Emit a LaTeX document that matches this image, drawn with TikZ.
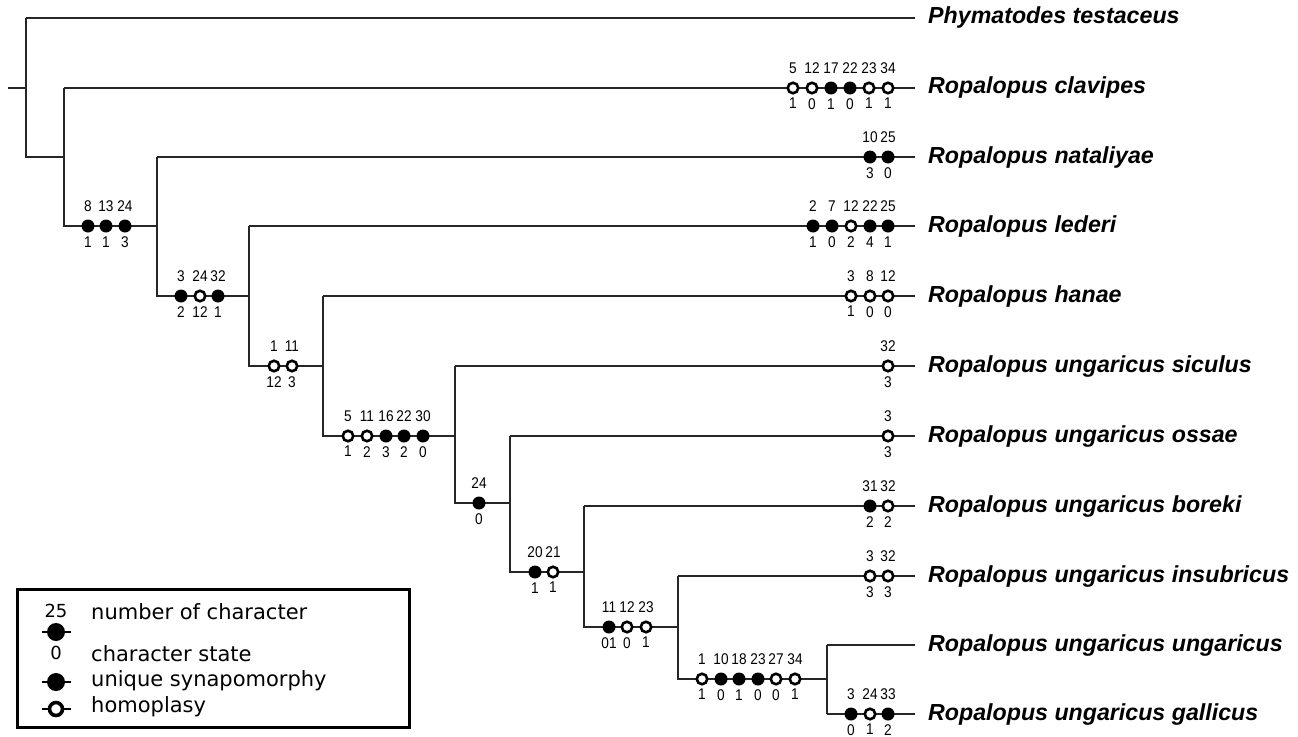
\documentclass[tikz,border=0pt]{standalone}
\usepackage{fontspec}
\setmainfont{Liberation Sans}
\newfontfamily\legendfont{DejaVu Sans}
\newfontfamily\numfont[FakeStretch=0.88]{Liberation Sans}

\tikzset{
  branch/.style={line width=1.3pt, draw=black!85},
  syn/.style={circle, fill=black, minimum size=13pt, inner sep=0pt},
  homo/.style={circle, draw=black, fill=white, line width=2.6pt, minimum size=10.5pt, inner sep=0pt},
  chr/.style={label={[font=\numfont\fontsize{15.5}{15.5}\selectfont, inner sep=0pt, label distance=7.5pt]above:#1}},
  sta/.style={label={[font=\numfont\fontsize{15.5}{15.5}\selectfont, inner sep=0pt, label distance=3.5pt]below:#1}},
  taxon/.style={anchor=west, inner sep=0pt, font=\fontsize{23.2}{26}\selectfont\bfseries\itshape},
  legtext/.style={anchor=west, inner sep=0pt, font=\legendfont\fontsize{21}{24}\selectfont},
  legnum/.style={inner sep=0pt, font=\legendfont\fontsize{18}{20}\selectfont},
}

\begin{document}
\begin{tikzpicture}[x=1pt, y=-1pt]
    \useasboundingbox (0,0) rectangle (1298,736);

    % tips of the branches
    \coordinate (phy) at (915,18);
    \coordinate (cla) at (915,88);
    \coordinate (nat) at (915,157);
    \coordinate (led) at (915,226);
    \coordinate (han) at (915,296);
    \coordinate (sic) at (915,366);
    \coordinate (oss) at (915,436);
    \coordinate (bor) at (915,506);
    \coordinate (ins) at (915,576);
    \coordinate (ung) at (915,645);
    \coordinate (gal) at (915,714);

    % inner nodes
    \coordinate (base) at (8,88);
    \coordinate (n0) at (26,88);
    \coordinate (n1) at (64,157);
    \coordinate (n2) at (157,226);
    \coordinate (n3) at (249,296);
    \coordinate (n4) at (323,366);
    \coordinate (n5) at (455,436);
    \coordinate (n6) at (510,503);
    \coordinate (n7) at (584,572);
    \coordinate (n8) at (678,627);
    \coordinate (n9) at (827,679);

    \draw [branch] (base) -- (n0);
    \draw [branch] (n0 |- phy) -- (n0 |- n1) -- (n1);
    \draw [branch] (n1 |- cla) -- (n1 |- n2) -- (n2);
    \draw [branch] (n2 |- nat) -- (n2 |- n3) -- (n3);
    \draw [branch] (n3 |- led) -- (n3 |- n4) -- (n4);
    \draw [branch] (n4 |- han) -- (n4 |- n5) -- (n5);
    \draw [branch] (n5 |- sic) -- (n5 |- n6) -- (n6);
    \draw [branch] (n6 |- oss) -- (n6 |- n7) -- (n7);
    \draw [branch] (n7 |- bor) -- (n7 |- n8) -- (n8);
    \draw [branch] (n8 |- ins) -- (n8 |- n9) -- (n9);
    \draw [branch] (n9 |- ung) -- (n9 |- gal);

    \draw [branch] (n0 |- phy) -- (phy);
    \draw [branch] (n1 |- cla) -- (cla);
    \draw [branch] (n2 |- nat) -- (nat);
    \draw [branch] (n3 |- led) -- (led);
    \draw [branch] (n4 |- han) -- (han);
    \draw [branch] (n5 |- sic) -- (sic);
    \draw [branch] (n6 |- oss) -- (oss);
    \draw [branch] (n7 |- bor) -- (bor);
    \draw [branch] (n8 |- ins) -- (ins);
    \draw [branch] (n9 |- ung) -- (ung);
    \draw [branch] (n9 |- gal) -- (gal);

    % taxa
    \node [taxon] (phyL) at (928,18) {Phymatodes testaceus};
    \node [taxon] (claL) at (928,88) {Ropalopus clavipes};
    \node [taxon] (natL) at (928,157) {Ropalopus nataliyae};
    \node [taxon] (ledL) at (928,226) {Ropalopus lederi};
    \node [taxon] (hanL) at (928,296) {Ropalopus hanae};
    \node [taxon] (sicL) at (928,366) {Ropalopus ungaricus siculus};
    \node [taxon] (ossL) at (928,436) {Ropalopus ungaricus ossae};
    \node [taxon] (borL) at (928,506) {Ropalopus ungaricus boreki};
    \node [taxon] (insL) at (928,576) {Ropalopus ungaricus insubricus};
    \node [taxon] (ungL) at (928,645) {Ropalopus ungaricus ungaricus};
    \node [taxon] (galL) at (928,714) {Ropalopus ungaricus gallicus};

    % characters on inner branches
    \node [syn, chr=8, sta=1] (m2a) at (88,226) {};
    \node [syn, chr=13, sta=1] (m2b) at (106,226) {};
    \node [syn, chr=24, sta=3] (m2c) at (125,226) {};

    \node [syn, chr=3, sta=2] (m3a) at (181,296) {};
    \node [homo, chr=24, sta=12] (m3b) at (200,296) {};
    \node [syn, chr=32, sta=1] (m3c) at (218,296) {};

    \node [homo, chr=1, sta=12] (m4a) at (274,366) {};
    \node [homo, chr=11, sta=3] (m4b) at (292,366) {};

    \node [homo, chr=5, sta=1] (m5a) at (348,436) {};
    \node [homo, chr=11, sta=2] (m5b) at (367,436) {};
    \node [syn, chr=16, sta=3] (m5c) at (386,436) {};
    \node [syn, chr=22, sta=2] (m5d) at (404,436) {};
    \node [syn, chr=30, sta=0] (m5e) at (423,436) {};

    \node [syn, chr=24, sta=0] (m6a) at (479,503) {};

    \node [syn, chr=20, sta=1] (m7a) at (535,572) {};
    \node [homo, chr=21, sta=1] (m7b) at (553,572) {};

    \node [syn, chr=11, sta=01] (m8a) at (609,627) {};
    \node [homo, chr=12, sta=0] (m8b) at (627,627) {};
    \node [homo, chr=23, sta=1] (m8c) at (646,627) {};

    \node [homo, chr=1, sta=1] (m9a) at (702,679) {};
    \node [syn, chr=10, sta=0] (m9b) at (721,679) {};
    \node [syn, chr=18, sta=1] (m9c) at (739,679) {};
    \node [syn, chr=23, sta=0] (m9d) at (758,679) {};
    \node [homo, chr=27, sta=0] (m9e) at (776,679) {};
    \node [homo, chr=34, sta=1] (m9f) at (795,679) {};

    % characters on terminal branches
    \node [homo, chr=5, sta=1] (claA) at (793,88) {};
    \node [homo, chr=12, sta=0] (claB) at (812,88) {};
    \node [syn, chr=17, sta=1] (claC) at (831,88) {};
    \node [syn, chr=22, sta=0] (claD) at (850,88) {};
    \node [homo, chr=23, sta=1] (claE) at (869,88) {};
    \node [homo, chr=34, sta=1] (claF) at (888,88) {};

    \node [syn, chr=10, sta=3] (natA) at (870,157) {};
    \node [syn, chr=25, sta=0] (natB) at (888,157) {};

    \node [syn, chr=2, sta=1] (ledA) at (813,226) {};
    \node [syn, chr=7, sta=0] (ledB) at (832,226) {};
    \node [homo, chr=12, sta=2] (ledC) at (851,226) {};
    \node [syn, chr=22, sta=4] (ledD) at (870,226) {};
    \node [syn, chr=25, sta=1] (ledE) at (888,226) {};

    \node [homo, chr=3, sta=1] (hanA) at (851,296) {};
    \node [homo, chr=8, sta=0] (hanB) at (870,296) {};
    \node [homo, chr=12, sta=0] (hanC) at (888,296) {};

    \node [homo, chr=32, sta=3] (sicA) at (888,366) {};

    \node [homo, chr=3, sta=3] (ossA) at (888,436) {};

    \node [syn, chr=31, sta=2] (borA) at (870,506) {};
    \node [homo, chr=32, sta=2] (borB) at (888,506) {};

    \node [homo, chr=3, sta=3] (insA) at (870,576) {};
    \node [homo, chr=32, sta=3] (insB) at (888,576) {};

    \node [syn, chr=3, sta=0] (galA) at (851,714) {};
    \node [homo, chr=24, sta=1] (galB) at (870,714) {};
    \node [syn, chr=33, sta=2] (galC) at (888,714) {};

    % legend
    \draw [line width=3pt] (17,589) rectangle (409,727);
    \coordinate (k1w) at (42,632);
    \coordinate (k1e) at (71,632);
    \coordinate (k2w) at (42,682);
    \coordinate (k2e) at (71,682);
    \coordinate (k3w) at (42,709);
    \coordinate (k3e) at (71,709);
    \draw [line width=1.4pt] (k1w) -- (k1e);
    \draw [line width=1.4pt] (k2w) -- (k2e);
    \draw [line width=1.4pt] (k3w) -- (k3e);
    \node [syn, minimum size=18pt] (k1) at (56,632) {};
    \node [syn, minimum size=18pt] (k2) at (56,682) {};
    \node [homo, minimum size=13pt, line width=3.6pt] (k3) at (56,709) {};
    \node [legnum] (k0n) at (56,611) {25};
    \node [legnum] (k0s) at (56,653) {0};
    \node [legtext] (t1) at (91,612) {number of character};
    \node [legtext] (t2) at (91,654) {character state};
    \node [legtext] (t3) at (91,681) {unique synapomorphy};
    \node [legtext] (t4) at (91,707) {homoplasy};
  \end{tikzpicture}
\end{document}
